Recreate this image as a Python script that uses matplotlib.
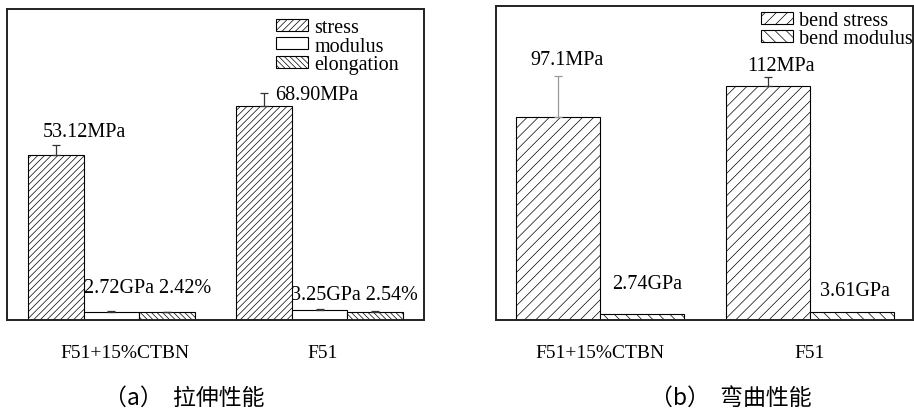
import numpy as np
import matplotlib
matplotlib.use("Agg")
import matplotlib.pyplot as plt

plt.rcParams['font.family'] = ['Liberation Serif', 'Noto Sans CJK SC']
plt.rcParams['hatch.linewidth'] = 0.5
plt.rcParams['hatch.color'] = '#222222'

# data
samples = ["F51+15%CTBN", "F51"]

tensile_stress = [53.12, 68.90]
tensile_stress_err = [3.0, 4.0]
tensile_modulus = [2.72, 3.25]
tensile_elong = [2.42, 2.54]
small_err = [0.3, 0.3]
tensile_labels_stress = ["53.12MPa", "68.90MPa"]
tensile_labels_small = ["2.72GPa 2.42%", "3.25GPa 2.54%"]

bend_stress = [97.1, 112.0]
bend_stress_err = [19.6, 4.0]
bend_modulus = [2.74, 3.61]
bend_labels_stress = ["97.1MPa", "112MPa"]
bend_labels_modulus = ["2.74GPa", "3.61GPa"]

captions = ["（a）  拉伸性能", "（b）  弯曲性能"]

fig = plt.figure(figsize=(9.14, 4.14), dpi=100)
axL = fig.add_axes([7/914, 1-321/414, 417/914, 311/414])
axR = fig.add_axes([496/914, 1-321/414, 417/914, 314/414])

def upper_err(ax, x, y, e, color='#333333'):
    ax.errorbar([x], [y], yerr=[[0], [e]], fmt='none', ecolor=color,
                elinewidth=0.9, capsize=3, capthick=0.9, zorder=3)

legend_kw = dict(loc='upper right', frameon=False, fontsize=14.5, handlelength=1.6,
                 handleheight=0.55, labelspacing=-0.04, handletextpad=0.3,
                 borderpad=0, borderaxespad=0)

# ---- (a) tensile
centers = np.array([0.0, 3.75])
w = 1.0
kw = dict(width=w, edgecolor='black', linewidth=0.8)
axL.bar(centers - w, tensile_stress, facecolor='white', hatch='/////', label='stress', **kw)
axL.bar(centers, tensile_modulus, facecolor='white', label='modulus', **kw)
axL.bar(centers + w, tensile_elong, facecolor='white', hatch='\\' * 6, label='elongation', **kw)
for i in range(2):
    upper_err(axL, centers[i] - w, tensile_stress[i], tensile_stress_err[i])
    upper_err(axL, centers[i], tensile_modulus[i], small_err[i])
    upper_err(axL, centers[i] + w, tensile_elong[i], small_err[i])

axL.text(-0.49, 57.5, tensile_labels_stress[0], ha='center', va='bottom', fontsize=14.5)
axL.text(3.70, 69.5, tensile_labels_stress[1], ha='center', va='bottom', fontsize=14.5)
axL.text(centers[0] - 0.5, 7.5, tensile_labels_small[0], ha='left', va='bottom', fontsize=14.5)
axL.text(centers[1] - 0.52, 5.0, tensile_labels_small[1], ha='left', va='bottom', fontsize=14.5)

axL.set_xlim(-1.883, 5.631)
axL.set_ylim(0, 100)
axL.set_xticks(centers + np.array([0.24, 0.05]))
axL.set_xticklabels(samples, fontsize=14)
axL.set_yticks([])
axL.tick_params(axis='x', length=0, pad=17)
axL.legend(bbox_to_anchor=(0.94, 0.97), **legend_kw)

# ---- (b) bending
centers2 = np.array([0.0, 2.5])
axR.bar(centers2 - 0.5, bend_stress, facecolor='white', hatch='///', label='bend stress', **kw)
axR.bar(centers2 + 0.5, bend_modulus, facecolor='white', hatch='\\\\\\', label='bend modulus', **kw)
upper_err(axR, centers2[0] - 0.5, bend_stress[0], bend_stress_err[0], color='#999999')
upper_err(axR, centers2[1] - 0.5, bend_stress[1], bend_stress_err[1])

axR.text(-0.39, 120.0, bend_labels_stress[0], ha='center', va='bottom', fontsize=14.5)
axR.text(2.155, 117.0, bend_labels_stress[1], ha='center', va='bottom', fontsize=14.5)
axR.text(0.56, 13.0, bend_labels_modulus[0], ha='center', va='bottom', fontsize=14.5)
axR.text(3.04, 9.5, bend_labels_modulus[1], ha='center', va='bottom', fontsize=14.5)

axR.set_xlim(-1.238, 3.726)
axR.set_ylim(0, 150)
axR.set_xticks(centers2)
axR.set_xticklabels(samples, fontsize=14)
axR.set_yticks([])
axR.tick_params(axis='x', length=0, pad=17)
axR.legend(bbox_to_anchor=(1.0, 0.985), **legend_kw)

for ax in (axL, axR):
    for s in ax.spines.values():
        s.set_linewidth(1.4)
        s.set_color('#222222')

fig.text(184/914, 1-398/414, captions[0], ha='center', va='center', fontsize=16.5,
         family=['Noto Sans CJK SC', 'DejaVu Sans'])
fig.text(731/914, 1-398/414, captions[1], ha='center', va='center', fontsize=16.5,
         family=['Noto Sans CJK SC', 'DejaVu Sans'])

fig.savefig("out.png", dpi=100)
